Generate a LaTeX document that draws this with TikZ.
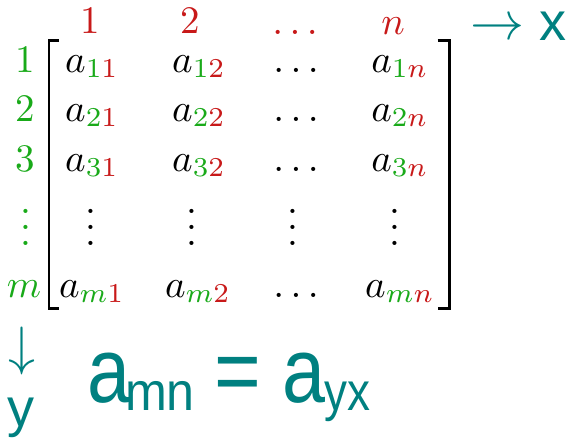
\documentclass[tikz,border=0pt]{standalone}
\usepackage{fontspec}
\newfontfamily\arialf{Liberation Sans}
\definecolor{rowg}{RGB}{25,170,25}
\definecolor{colr}{RGB}{200,25,25}
\definecolor{tealc}{RGB}{0,128,128}
\newcommand{\rgn}[1]{\textcolor{rowg}{#1}}
\newcommand{\rcl}[1]{\textcolor{colr}{#1}}
\begin{document}
\begin{tikzpicture}[x=1pt,y=-1pt,
  mat/.style={scale=3.9,anchor=base,inner sep=0pt,outer sep=0pt},
  hdr/.style={mat,text=colr},
  rlab/.style={mat,text=rowg},
  ent/.style={mat,text=black},
  arr/.style={scale=3.75,anchor=base,inner sep=0pt,text=tealc,font=\Large},
  tsans/.style={anchor=base,inner sep=0pt,text=tealc,font=\arialf\fontsize{54}{60}\selectfont},
  tbig/.style={anchor=base,inner sep=0pt,text=tealc,font=\arialf\fontsize{92}{100}\selectfont},
  brk/.style={line width=2.7pt,line cap=butt,line join=miter}]
\useasboundingbox (0,0) rectangle (567,440);
% column headers
\node[hdr] (c1) at (90,33) {1};
\node[hdr] (c2) at (190,33) {2};
\node[hdr] (c3) at (295,34) {$\ldots$};
\node[hdr] (c4) at (393,34) {$n$};
% row labels
\node[rlab] (r1) at (25,72) {1};
\node[rlab] (r2) at (25,121) {2};
\node[rlab] (r3) at (25,171) {3};
\node[rlab] (r4) at (25.5,245) {$\vdots$};
\node[rlab] (r5) at (24,297) {$m$};
% entries
\node[ent] (e11) at (92,72) {$a_{\rgn{1}\rcl{1}}$};
\node[ent] (e12) at (199,72) {$a_{\rgn{1}\rcl{2}}$};
\node[ent] (e13) at (296,72) {$\ldots$};
\node[ent] (e14) at (400,72) {$a_{\rgn{1}\rcl{n}}$};
\node[ent] (e21) at (92,121) {$a_{\rgn{2}\rcl{1}}$};
\node[ent] (e22) at (199,121) {$a_{\rgn{2}\rcl{2}}$};
\node[ent] (e23) at (296,121) {$\ldots$};
\node[ent] (e24) at (400,121) {$a_{\rgn{2}\rcl{n}}$};
\node[ent] (e31) at (92,171) {$a_{\rgn{3}\rcl{1}}$};
\node[ent] (e32) at (199,171) {$a_{\rgn{3}\rcl{2}}$};
\node[ent] (e33) at (296,171) {$\ldots$};
\node[ent] (e34) at (400,171) {$a_{\rgn{3}\rcl{n}}$};
\node[ent] (e41) at (91,245) {$\vdots$};
\node[ent] (e42) at (192,245) {$\vdots$};
\node[ent] (e43) at (293,245) {$\vdots$};
\node[ent] (e44) at (395,245) {$\vdots$};
\node[ent] (e51) at (92,297) {$a_{\rgn{m}\rcl{1}}$};
\node[ent] (e52) at (198,297) {$a_{\rgn{m}\rcl{2}}$};
\node[ent] (e53) at (296,297) {$\ldots$};
\node[ent] (e54) at (400,297) {$a_{\rgn{m}\rcl{n}}$};
% brackets
\coordinate (lbt) at (49,40.5);
\coordinate (lbb) at (49,308.3);
\coordinate (rbt) at (449.7,40.5);
\coordinate (rbb) at (449.7,308.3);
\draw[brk] ([xshift=10pt]lbt) -- (lbt) -- (lbb) -- ([xshift=10pt]lbb);
\draw[brk] ([xshift=-12pt]rbt) -- (rbt) -- (rbb) -- ([xshift=-12pt]rbb);
% axes
\node[arr] (xa) at (497.5,39) {$\rightarrow$};
\node[tsans,text height=30pt] (xl) at (552.5,40) {x};
\node[arr] (ya) at (22.5,364.5) {$\downarrow$};
\node[tsans,text height=30pt] (yl) at (21.5,426) {y};
% formula
\node[tbig,xscale=0.84] (fa1) at (108.5,402) {a};
\node[tsans,xscale=0.93] (fs1) at (160,410) {mn};
\node[tbig,xscale=0.87] (feq) at (237.5,402) {=};
\node[tbig,xscale=0.84] (fa2) at (304,402) {a};
\node[tsans,xscale=0.85] (fs2) at (347.5,410) {yx};
\end{tikzpicture}
\end{document}
